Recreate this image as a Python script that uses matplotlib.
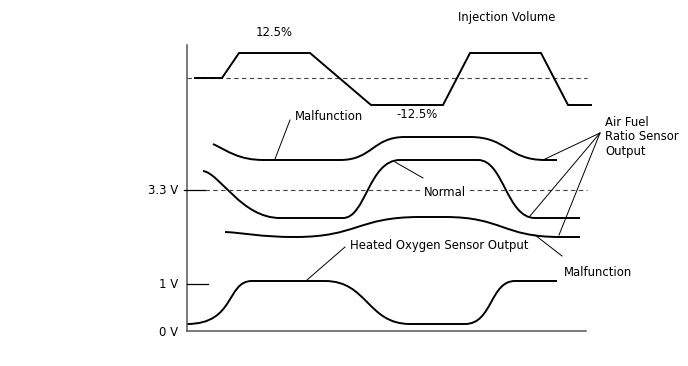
"""Injection volume vs. air fuel ratio / heated oxygen sensor output (schematic)."""

import matplotlib
matplotlib.use("Agg")
from matplotlib import pyplot as plt
from matplotlib.path import Path
from matplotlib.patches import PathPatch

# --- Schematic data (x = time in px units, y = drawing level, y grows downward) ---
# Injection volume: piecewise linear, +12.5% / -12.5% around the base line
inj_x = [195, 222, 239, 310, 371, 443, 470, 541, 568, 591]
inj_y = [78, 78, 53, 53, 105, 105, 53, 53, 105, 105]
inj_base = 78

# Smooth sensor curves: knots, and per segment (k_start, k_end, start_drop) or None for straight
afr_malf_upper = [(213, 144), (264, 160), (340, 160), (405, 137), (470, 137), (545, 160), (557, 160)]
afr_malf_upper_k = [(0.3, 0.5, 0.45), None, (0.5, 0.5, 0), None, (0.5, 0.5, 0), None]

afr_normal = [(203, 171), (280, 218), (343, 218), (400, 160), (478, 160), (535, 218), (580, 218)]
afr_normal_k = [(0.22, 0.5, 0.05), None, (0.4, 0.55, 0), None, (0.45, 0.5, 0), None]

afr_malf_lower = [(225, 232), (295, 237), (420, 217), (445, 217), (560, 237), (580, 237)]
afr_malf_lower_k = [(0.3, 0.5, 0.2), (0.5, 0.5, 0), None, (0.5, 0.5, 0), None]

ho2s = [(187, 324), (252, 281), (325, 281), (410, 324), (465, 324), (515, 281), (557, 281)]
ho2s_k = [(0.75, 0.4, 0), None, (0.5, 0.5, 0), None, (0.55, 0.5, 0), None]

level_33v = 190
level_1v = 284
level_0v = 331

AX_LEFT, AX_RIGHT, AX_TOP = 187, 586, 45

INK = "black"
AXIS_COL = "#555555"
FS = 8.4


def smooth_path(knots, ks):
    verts = [knots[0]]
    codes = [Path.MOVETO]
    for (p0, p1), k in zip(zip(knots[:-1], knots[1:]), ks):
        if k is None:
            verts.append(p1)
            codes.append(Path.LINETO)
            continue
        dx = p1[0] - p0[0]
        dy = p1[1] - p0[1]
        verts += [(p0[0] + k[0] * dx, p0[1] + k[2] * dy), (p1[0] - k[1] * dx, p1[1]), p1]
        codes += [Path.CURVE4] * 3
    return Path(verts, codes)


fig = plt.figure(figsize=(6.88, 3.66), dpi=100)
ax = fig.add_axes([0, 0, 1, 1])
ax.set_xlim(0, 688)
ax.set_ylim(366, 0)
ax.axis("off")

# axes frame
ax.plot([AX_LEFT, AX_LEFT], [AX_TOP, level_0v], color=AXIS_COL, lw=1.1)
ax.plot([AX_LEFT, AX_RIGHT], [level_0v, level_0v], color=AXIS_COL, lw=1.1)

# reference lines
ax.plot([AX_LEFT, 587], [inj_base, inj_base], color="#444444", lw=0.8, ls=(0, (4, 3)))
ax.plot([205, 587], [level_33v, level_33v], color="#444444", lw=0.8, ls=(0, (4, 3)))
ax.plot([184, 205], [level_33v, level_33v], color=INK, lw=0.9)
ax.plot([AX_LEFT, 208], [level_1v, level_1v], color=INK, lw=0.9)

# injection volume
ax.plot(inj_x, inj_y, color=INK, lw=1.4, solid_joinstyle="miter")

# sensor curves
for knots, ks in [(afr_malf_upper, afr_malf_upper_k), (afr_normal, afr_normal_k),
                  (afr_malf_lower, afr_malf_lower_k), (ho2s, ho2s_k)]:
    ax.add_patch(PathPatch(smooth_path(knots, ks), fill=False, edgecolor=INK, lw=1.4))

# leader lines
leaders = [
    ((275, 159), (290, 120)),
    ((395, 162), (423, 178)),
    ((600, 133), (545, 159)),
    ((600, 133), (530, 216)),
    ((600, 133), (559, 235)),
    ((535, 235), (562, 256)),
    ((307, 280), (345, 247)),
]
for (x0, y0), (x1, y1) in leaders:
    ax.plot([x0, x1], [y0, y1], color=INK, lw=0.7)

# texts
ax.text(274, 32, "12.5%", fontsize=FS, ha="center", va="center")
ax.text(507, 18, "Injection Volume", fontsize=FS, ha="center", va="center")
ax.text(417, 115, "-12.5%", fontsize=FS, ha="center", va="center")
ax.text(295, 117, "Malfunction", fontsize=FS, ha="left", va="center")
ax.text(424, 193, "Normal", fontsize=FS, ha="left", va="center",
        bbox=dict(facecolor="white", edgecolor="none", pad=0.5))
ax.text(605, 137, "Air Fuel\nRatio Sensor\nOutput", fontsize=FS, ha="left", va="center",
        linespacing=1.15)
ax.text(350, 245, "Heated Oxygen Sensor Output", fontsize=FS, ha="left", va="center")
ax.text(564, 272, "Malfunction", fontsize=FS, ha="left", va="center")
ax.text(178, level_33v, "3.3 V", fontsize=FS, ha="right", va="center")
ax.text(178, level_1v, "1 V", fontsize=FS, ha="right", va="center")
ax.text(178, level_0v + 1, "0 V", fontsize=FS, ha="right", va="center")

fig.savefig("out.png", dpi=100)
plt.close(fig)
